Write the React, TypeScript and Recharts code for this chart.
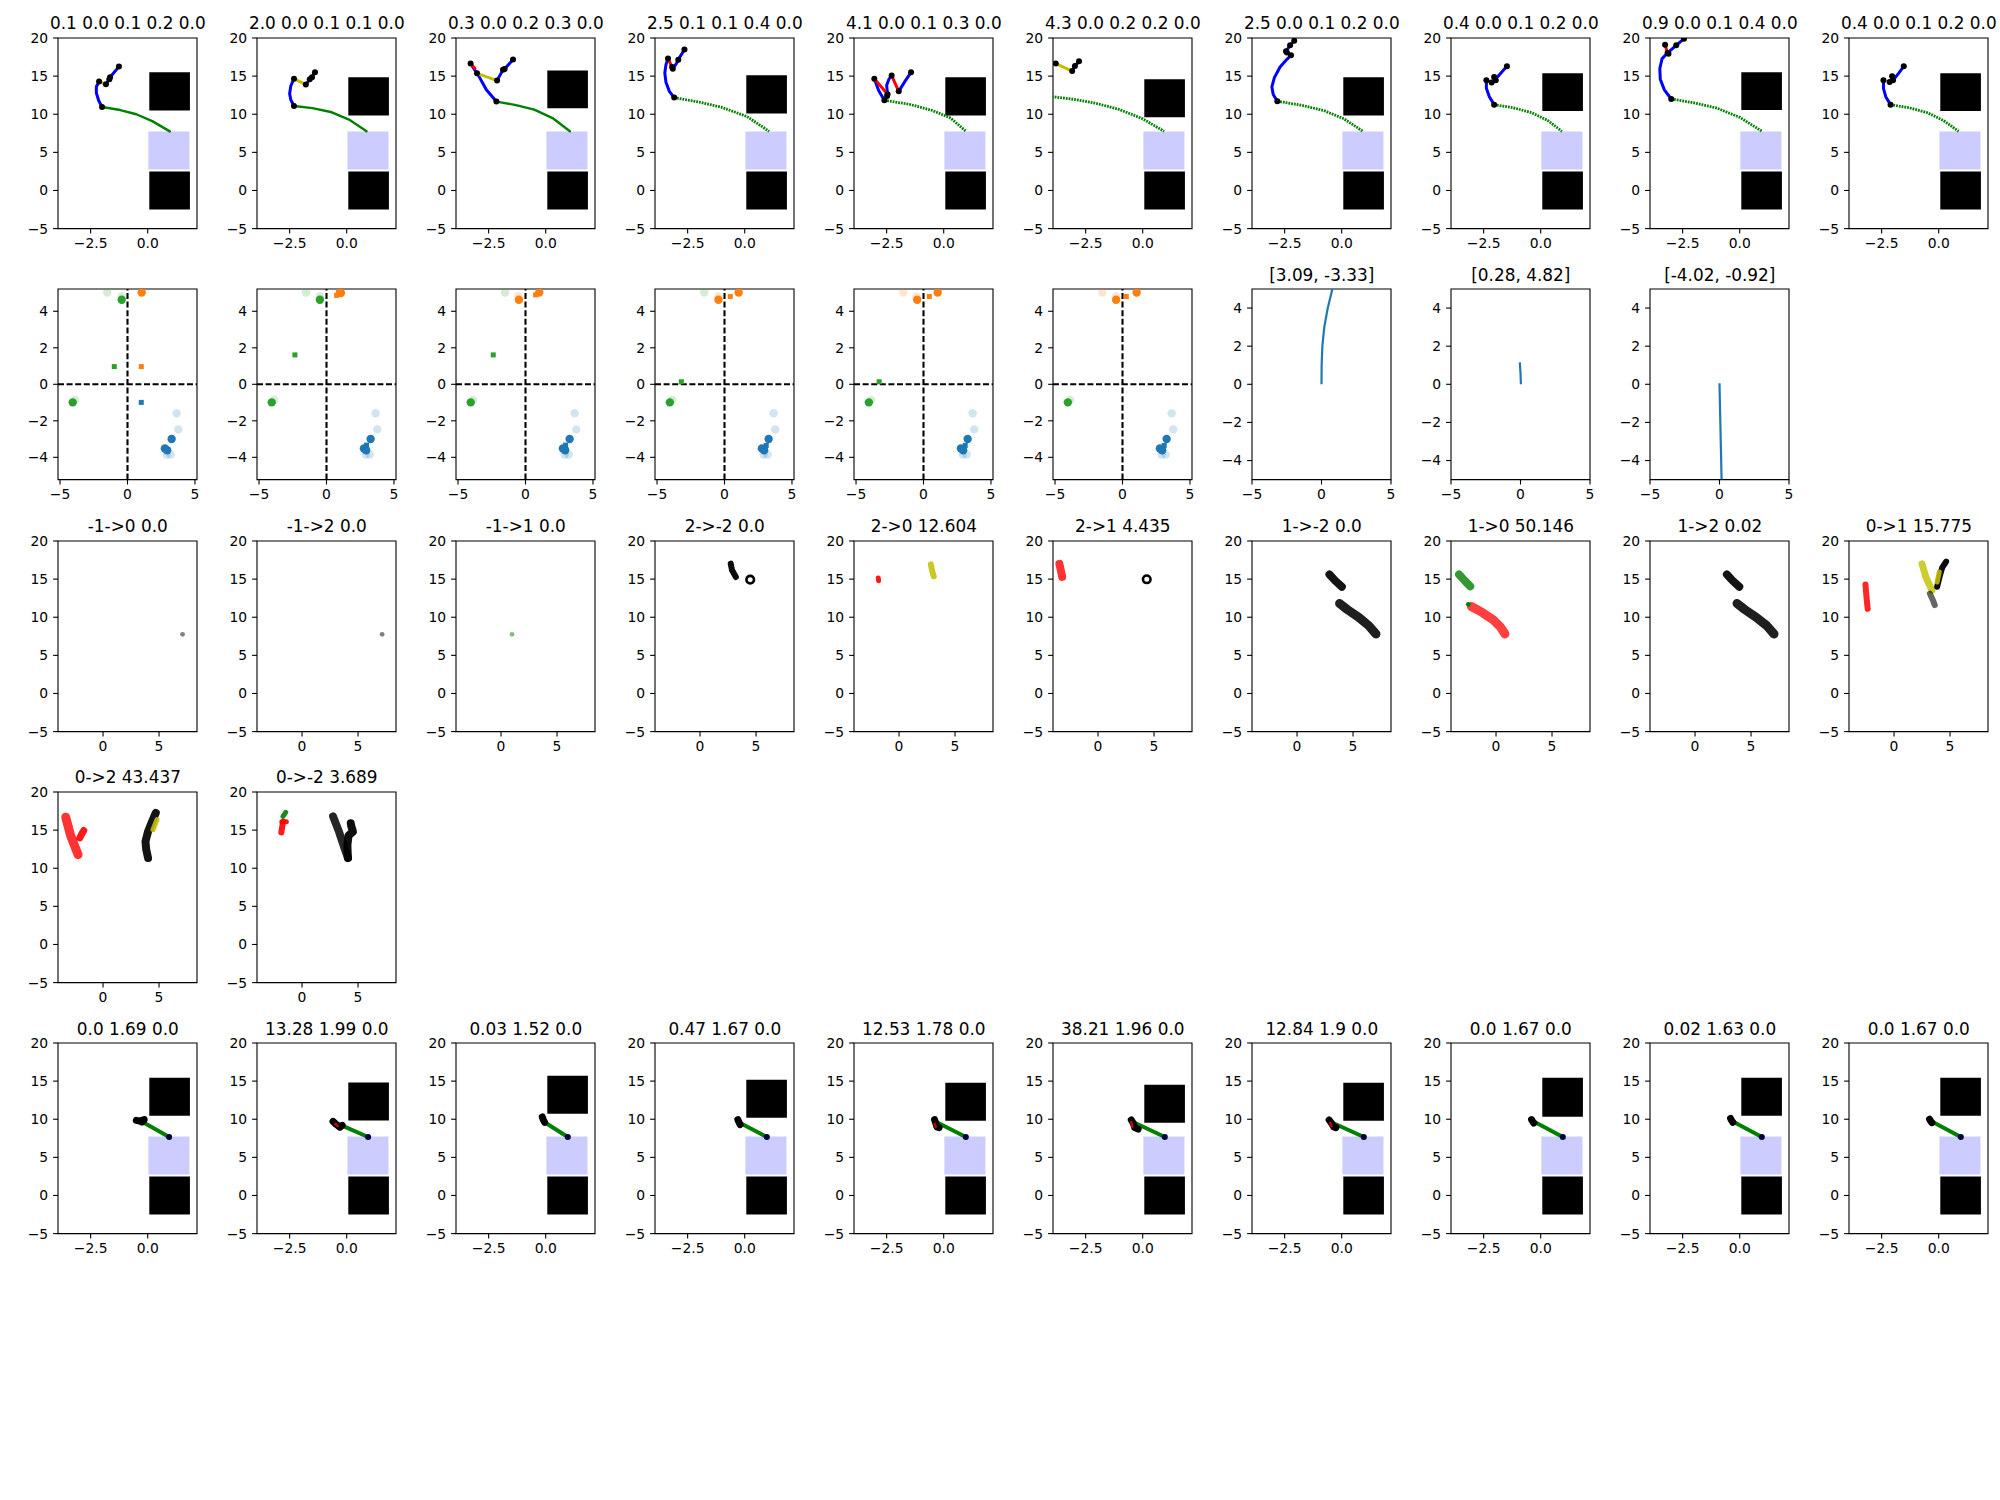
import React from 'react';
import { ScatterChart, Scatter, XAxis, YAxis, ReferenceArea, ReferenceLine } from 'recharts';

const FONT = 'DejaVu Sans';
const BLUE = '#0000ff';
const GREEN = '#008000';
const RED = '#ff0000';
const YEL = '#bfbf00';
const BLACK = '#000000';
const LAV = '#ccccff';
const NAVY = '#000040';
const T_BLUE = '#1f77b4';
const T_ORANGE = '#ff7f0e';
const T_GREEN = '#2ca02c';

// grid geometry (matplotlib tight layout)
const COL0 = 58.3;
const COL_STEP = 199;
const ROW0 = 37.7;
const ROW_STEP = 251.4;
const PW = 139;
const PH = 190.6;

// ---- row 1: arm trajectories ----
const r1Titles = [
  '0.1 0.0 0.1 0.2 0.0', '2.0 0.0 0.1 0.1 0.0', '0.3 0.0 0.2 0.3 0.0', '2.5 0.1 0.1 0.4 0.0', '4.1 0.0 0.1 0.3 0.0',
  '4.3 0.0 0.2 0.2 0.0', '2.5 0.0 0.1 0.2 0.0', '0.4 0.0 0.1 0.2 0.0', '0.9 0.0 0.1 0.4 0.0', '0.4 0.0 0.1 0.2 0.0',
];
const r1TopBox = [[10.5, 15.5], [9.85, 14.85], [10.8, 15.75], [10.1, 15.1], [9.85, 14.85], [9.6, 14.6], [9.85, 14.85], [10.43, 15.37], [10.55, 15.5], [10.43, 15.37]];
const r1GreenDotted = [false, false, false, true, true, true, true, true, true, true];
const r1Green = [
  [-2.0, 10.95, -1.2, 10.55, -0.5, 10.0, 0.2, 9.1, 0.97, 7.75],
  [-2.31, 11.08, -1.5, 10.8, -0.7, 10.3, 0.1, 9.3, 0.87, 7.76],
  [-2.16, 11.66, -1.3, 11.2, -0.5, 10.6, 0.3, 9.5, 1.06, 7.76],
  [-3.09, 12.18, -2.0, 11.6, -1.0, 10.9, 0.1, 9.7, 1.07, 7.76],
  [-2.6, 11.83, -1.5, 11.3, -0.5, 10.5, 0.3, 9.5, 0.98, 7.76],
  [-4.1, 12.35, -3.0, 11.95, -2.0, 11.4, -1.0, 10.6, 0.0, 9.4, 0.94, 7.76],
  [-2.82, 11.7, -1.8, 11.2, -0.8, 10.5, 0.1, 9.4, 0.93, 7.76],
  [-2.04, 11.26, -1.2, 10.85, -0.4, 10.2, 0.3, 9.2, 0.93, 7.76],
  [-3.0, 12.0, -2.0, 11.5, -1.0, 10.8, 0.0, 9.6, 0.98, 7.76],
  [-2.11, 11.26, -1.3, 10.85, -0.5, 10.2, 0.2, 9.2, 0.87, 7.76],
];
const r1Blue = [
  [[-2.0, 10.95, -2.15, 11.8, -2.25, 12.8, -2.25, 13.6, -2.13, 14.3], [-1.83, 13.93, -1.68, 14.6, -1.65, 14.85, -1.26, 16.25]],
  [[-2.31, 11.08, -2.45, 11.9, -2.5, 12.7, -2.45, 13.7, -2.31, 14.67], [-1.79, 13.89, -1.62, 14.58, -1.52, 14.85, -1.39, 15.5]],
  [[-3.2, 16.2, -2.95, 15.1, -2.6, 13.2, -2.16, 11.66], [-2.13, 14.41, -1.87, 15.85, -1.8, 15.95, -1.43, 17.17]],
  [[-3.09, 12.18, -3.3, 13.0, -3.45, 14.2, -3.5, 15.4, -3.45, 16.5, -3.36, 17.3], [-3.15, 15.98, -3.0, 16.6, -2.91, 17.16, -2.64, 18.48]],
  [[-3.04, 14.67, -2.85, 13.1, -2.6, 11.83], [-2.46, 12.62, -2.5, 13.8, -2.4, 14.6, -2.28, 15.07], [-1.97, 13.0, -1.7, 14.3, -1.43, 15.5]],
  [[-3.09, 15.67, -2.97, 16.33, -2.79, 16.94]],
  [[-2.82, 11.7, -3.0, 12.6, -3.06, 13.6, -2.95, 14.8, -2.7, 16.2, -2.4, 17.2, -2.22, 17.73], [-2.44, 18.26, -2.26, 19.04, -2.08, 19.65]],
  [[-2.04, 11.26, -2.25, 12.3, -2.38, 13.4, -2.38, 14.45], [-2.15, 14.15, -1.8, 15.2, -1.48, 16.29]],
  [[-3.0, 12.0, -3.3, 13.2, -3.48, 14.6, -3.5, 16.0, -3.4, 17.3, -3.16, 18.04], [-3.16, 18.04, -2.78, 19.04, -2.44, 19.91]],
  [[-2.11, 11.26, -2.32, 12.3, -2.42, 13.4, -2.42, 14.45], [-2.0, 14.45, -1.75, 15.4, -1.53, 16.29]],
];
const r1Red = [
  [], [], [[-3.29, 16.64, -3.1, 16.0]], [[-3.36, 17.3, -3.15, 15.98]],
  [[-3.04, 14.67, -2.46, 12.62], [-2.28, 15.07, -1.97, 13.0]], [], [], [], [[-3.27, 19.13, -3.16, 18.04]], [],
];
const r1Yellow = [
  [[-2.13, 14.3, -1.83, 13.93]], [[-2.31, 14.67, -1.79, 13.89]], [[-3.01, 15.37, -2.13, 14.41]], [], [],
  [[-3.81, 16.64, -3.09, 15.67]], [], [], [], [],
];
const r1Dots = [
  [-2.0, 10.95, -2.13, 14.3, -1.83, 13.93, -1.68, 14.6, -1.65, 14.85, -1.26, 16.25],
  [-2.31, 11.08, -2.31, 14.67, -1.79, 13.89, -1.62, 14.58, -1.52, 14.85, -1.39, 15.5],
  [-3.29, 16.64, -3.01, 15.37, -2.13, 14.41, -2.16, 11.66, -1.87, 15.85, -1.8, 15.95, -1.43, 17.17],
  [-3.36, 17.3, -3.15, 15.98, -3.18, 16.2, -2.91, 17.16, -2.64, 18.48, -3.09, 12.18],
  [-3.04, 14.67, -2.6, 11.83, -2.46, 12.62, -2.48, 12.4, -2.28, 15.07, -1.97, 13.0, -1.43, 15.5],
  [-3.81, 16.64, -3.09, 15.67, -2.97, 16.33, -2.79, 16.94],
  [-2.82, 11.7, -2.44, 18.26, -2.22, 17.73, -2.26, 19.04, -2.08, 19.65, -2.4, 18.1],
  [-2.04, 11.26, -2.38, 14.45, -2.15, 14.15, -2.04, 14.89, -1.97, 14.45, -1.48, 16.29],
  [-3.0, 12.0, -3.27, 19.13, -3.16, 18.04, -3.12, 17.95, -2.78, 19.04, -2.44, 19.91],
  [-2.11, 11.26, -2.42, 14.45, -2.15, 14.23, -2.04, 14.98, -2.0, 14.45, -1.53, 16.29],
];

// ---- row 2: goal scatter (cols 0-5) and curves (cols 6-8) ----
const r2BlueFaded = [3.64, -1.59, 3.76, -2.47, 2.9, -3.85, 3.2, -3.85];
const r2BlueSolid = [3.27, -3.0, 2.77, -3.52, 2.94, -3.61];
const r2FadedGreen = [
  [-1.5, 5.03, -0.43, 4.81, -3.88, -0.86], [-1.52, 5.03, -0.49, 4.81, -3.88, -0.86], [-1.52, 5.03, -3.88, -0.86],
  [-1.5, 5.03, -3.88, -0.86], [-3.88, -0.86], [-3.88, -0.86],
];
const r2SolidGreen = [[-0.43, 4.63, -4.06, -0.99], [-0.49, 4.63, -4.06, -0.99], [-4.06, -0.99], [-4.05, -0.99], [-4.05, -0.99], [-4.05, -0.99]];
const r2FadedOrange = [[], [], [-0.54, 4.83], [-0.45, 4.81], [-1.5, 5.03, -0.51, 4.81], [-1.5, 5.03, -0.47, 4.81]];
const r2SolidOrange = [[1.05, 5.03], [0.99, 5.03, 1.07, 5.0], [-0.49, 4.63, 1.02, 5.03], [-0.45, 4.63, 1.05, 5.03], [-0.47, 4.63, 1.05, 5.03], [-0.47, 4.63, 1.05, 5.03]];
const r2SqGreen = [[-0.98, 0.97], [-2.34, 1.61], [-2.39, 1.61], [-3.2, 0.14], [-3.29, 0.14], []];
const r2SqOrange = [[1.02, 0.97], [0.75, 4.87], [0.75, 4.9], [0.43, 4.81], [0.43, 4.81], [0.28, 4.81]];
const r2SqBlue = [[1.02, -0.99], [2.97, -3.33], [2.97, -3.33], [3.09, -3.35], [3.09, -3.35], [3.09, -3.35]];
const r2CurveTitles = ['[3.09, -3.33]', '[0.28, 4.82]', '[-4.02, -0.92]'];
const r2Curves = [
  [0, 0, 0.01, 1, 0.06, 2, 0.2, 3, 0.45, 4, 0.8, 5.05],
  [0.03, 0, 0.0, 0.6, -0.05, 1.15],
  [0, 0.05, 0.03, -1, 0.06, -2, 0.09, -3, 0.12, -4, 0.15, -5],
];

// ---- rows 3-4: transition blobs ----
const r34Titles = [
  '-1->0 0.0', '-1->2 0.0', '-1->1 0.0', '2->-2 0.0', '2->0 12.604', '2->1 4.435',
  '1->-2 0.0', '1->0 50.146', '1->2 0.02', '0->1 15.775', '0->2 43.437', '0->-2 3.689',
];
// [color, width, opacity, ...xy]
const r34Strokes: (string | number)[][][] = [
  [],
  [],
  [],
  [[BLACK, 6, 0.95, 2.74, 17.03, 2.85, 16.2, 3.2, 15.28]],
  [[RED, 5, 0.9, -1.85, 15.15, -1.83, 14.8], [YEL, 6, 0.85, 2.84, 16.94, 2.95, 16.1, 3.1, 15.37]],
  [[RED, 8, 0.8, -3.45, 17.0, -3.3, 16.0, -3.2, 15.3]],
  [[BLACK, 8, 0.92, 2.9, 15.6, 3.4, 14.8, 4.0, 14.0], [BLACK, 9, 0.88, 3.8, 11.8, 4.5, 11.0, 5.5, 10.0, 6.4, 8.9, 7.05, 7.8]],
  [[GREEN, 8, 0.8, -3.3, 15.6, -2.8, 14.8, -2.3, 14.05], [RED, 9, 0.75, -2.2, 11.4, -1.2, 10.6, -0.2, 9.6, 0.4, 8.7, 0.8, 7.8]],
  [[BLACK, 8, 0.92, 2.85, 15.6, 3.35, 14.8, 3.95, 14.0], [BLACK, 9, 0.88, 3.75, 11.8, 4.45, 11.0, 5.45, 10.0, 6.4, 8.9, 7.05, 7.8]],
  [
    [RED, 6, 0.85, -2.55, 14.3, -2.45, 12.5, -2.35, 11.1],
    [YEL, 7, 0.8, 2.5, 17.0, 2.84, 15.28, 3.38, 13.53],
    [BLACK, 6, 0.6, 3.2, 13.1, 3.45, 12.3, 3.64, 11.6],
    [BLACK, 6, 0.95, 3.85, 14.0, 4.1, 15.5, 4.3, 16.5, 4.65, 17.3],
    [YEL, 5, 0.9, 3.85, 14.62, 4.04, 15.93],
  ],
  [
    [RED, 9, 0.8, -3.33, 16.7, -2.9, 14.3, -2.23, 11.78],
    [RED, 7, 0.9, -2.08, 13.97, -1.9, 14.5, -1.72, 14.96],
    [BLACK, 8, 0.92, 4.02, 11.34, 3.85, 12.5, 3.79, 13.52, 4.02, 14.83, 4.4, 16.2, 4.71, 17.25],
    [YEL, 5, 0.9, 4.46, 15.05, 4.82, 16.37],
  ],
  [
    [RED, 6, 0.9, -1.85, 14.7, -1.75, 15.6, -1.7, 16.1],
    [RED, 5, 0.9, -1.8, 16.1, -1.4, 16.1],
    [GREEN, 5, 0.9, -1.7, 16.8, -1.46, 17.32],
    [BLACK, 8, 0.85, 2.77, 16.8, 3.3, 14.8, 3.8, 12.6, 4.1, 11.34],
    [BLACK, 8, 0.95, 4.1, 11.34, 4.05, 13.0, 4.15, 14.3, 4.55, 14.8, 4.4, 15.5, 4.35, 15.9],
  ],
];
const r34SmallDots = [[7.1, 7.76], [7.15, 7.76], [0.98, 7.76], [], [], [], [], [-2.47, 11.7], [], [], [], []];
const r34SmallDotColor = ['#808080', '#808080', '#7fbf7f', '', '', '', '', GREEN, '', '', '', ''];
const r34Rings = [[], [], [], [4.48, 14.93], [], [4.35, 14.98], [], [], [], [], [], []];

// ---- row 5: final poses ----
const r5Titles = [
  '0.0 1.69 0.0', '13.28 1.99 0.0', '0.03 1.52 0.0', '0.47 1.67 0.0', '12.53 1.78 0.0',
  '38.21 1.96 0.0', '12.84 1.9 0.0', '0.0 1.67 0.0', '0.02 1.63 0.0', '0.0 1.67 0.0',
];
const r5TopBox = [[10.46, 15.45], [9.85, 14.83], [10.73, 15.71], [10.2, 15.19], [9.81, 14.8], [9.55, 14.53], [9.81, 14.8], [10.34, 15.45], [10.47, 15.45], [10.47, 15.45]];
const r5Cluster = [
  [-0.5, 9.85, -0.35, 9.75, -0.15, 9.95, -0.25, 9.65],
  [-0.6, 9.72, -0.45, 9.3, -0.3, 8.95, -0.2, 9.2],
  [-0.15, 10.3, -0.1, 9.9, -0.05, 9.6],
  [-0.3, 9.95, -0.25, 9.6, -0.2, 9.3],
  [-0.4, 9.95, -0.35, 9.5, -0.3, 9.0, -0.2, 8.9],
  [-0.5, 9.9, -0.4, 9.4, -0.35, 8.9, -0.2, 8.7],
  [-0.55, 9.9, -0.45, 9.5, -0.35, 9.0, -0.25, 8.9],
  [-0.4, 9.95, -0.35, 9.7, -0.3, 9.5],
  [-0.4, 10.1, -0.35, 9.8, -0.3, 9.6],
  [-0.4, 10.0, -0.35, 9.75, -0.3, 9.55],
];
const r5Red = [[], [-0.5, 9.4, -0.4, 9.1], [], [], [-0.4, 9.4, -0.35, 9.0], [-0.5, 9.6, -0.45, 9.0], [-0.5, 9.5, -0.45, 9.1], [], [], []];
const r5Green = [
  [-0.2, 9.6, 0.94, 7.67], [-0.3, 9.3, 0.94, 7.67], [-0.05, 9.6, 0.97, 7.67], [-0.2, 9.5, 0.97, 7.67], [-0.3, 9.6, 0.97, 7.67],
  [-0.4, 9.6, 0.97, 7.67], [-0.45, 9.6, 0.97, 7.67], [-0.3, 9.7, 0.97, 7.67], [-0.3, 9.7, 0.97, 7.67], [-0.3, 9.7, 0.97, 7.67],
];

// ---- axes ----
const ARM_X: [number, number] = [-3.93, 2.16];
const ARM_Y: [number, number] = [-5, 20];
const ARM_XT = [-2.5, 0];
const ARM_YT = [-5, 0, 5, 10, 15, 20];
const GOAL_X: [number, number] = [-5.15, 5.15];
const GOAL_Y: [number, number] = [-5.22, 5.22];
const CURVE_D: [number, number] = [-5, 5];
const GOAL_XT = [-5, 0, 5];
const GOAL_YT = [-4, -2, 0, 2, 4];
const TR_X: [number, number] = [-4.02, 8.39];
const TR_XT = [0, 5];

type LineSpec = { pts: number[]; color: string; w: number; op?: number; dash?: string; cap?: 'round' | 'butt' };
type DotSpec = { pts: number[]; color: string; r: number; op?: number; kind?: 'circle' | 'square' | 'ring' };
type BoxSpec = { x1: number; x2: number; y1: number; y2: number; fill: string };

const toPts = (flat: number[]) => {
  const out: { x: number; y: number }[] = [];
  for (let i = 0; i < flat.length; i += 2) out.push({ x: flat[i], y: flat[i + 1] });
  return out;
};

const minus = (s: string) => s.replace('-', '\u2212');
const fmtInt = (v: number) => minus(String(v));
const fmtDec = (v: number) => minus(v.toFixed(1));

const TICK = { fill: '#000', fontSize: 13.9, fontFamily: FONT };
const noShape = () => <g />;

function dotShape(d: DotSpec) {
  return (p: any) => {
    if (d.kind === 'square')
      return <rect x={p.cx - d.r} y={p.cy - d.r} width={2 * d.r} height={2 * d.r} fill={d.color} fillOpacity={d.op ?? 1} />;
    if (d.kind === 'ring')
      return <circle cx={p.cx} cy={p.cy} r={d.r} fill="#fff" stroke={d.color} strokeWidth={2.6} />;
    return <circle cx={p.cx} cy={p.cy} r={d.r} fill={d.color} fillOpacity={d.op ?? 1} />;
  };
}

interface PanelProps {
  col: number;
  row: number;
  title?: string;
  xDomain: [number, number];
  yDomain: [number, number];
  xTicks: number[];
  yTicks: number[];
  xFmt: (v: number) => string;
  boxes?: BoxSpec[];
  lines?: LineSpec[];
  dots?: DotSpec[];
  cross?: boolean;
}

function Panel({ col, row, title, xDomain, yDomain, xTicks, yTicks, xFmt, boxes = [], lines = [], dots = [], cross = false }: PanelProps) {
  const left = COL0 + COL_STEP * col;
  const top = ROW0 + ROW_STEP * row;
  return (
    <>
      {title !== undefined && (
        <div
          style={{
            position: 'absolute', left: left + PW / 2 - 150, top: top - 22.6, width: 300, textAlign: 'center',
            fontFamily: FONT, fontSize: 16.9, lineHeight: '16.9px', whiteSpace: 'nowrap', color: '#000',
          }}
        >
          {title}
        </div>
      )}
      <div style={{ position: 'absolute', left: left - 50, top: top - 10 }}>
        <ScatterChart width={50 + PW + 10} height={10 + PH + 30} margin={{ top: 10, right: 10, bottom: 0, left: 0 }}>
          <XAxis
            type="number" dataKey="x" domain={xDomain} allowDataOverflow ticks={xTicks} interval={0}
            tickFormatter={xFmt} height={30} axisLine={false} tickSize={4.9} tickMargin={4.9}
            tickLine={{ stroke: '#000', strokeWidth: 1.1 }} tick={TICK}
          />
          <YAxis
            type="number" dataKey="y" domain={yDomain} allowDataOverflow ticks={yTicks} interval={0}
            tickFormatter={fmtInt} width={50} axisLine={false} tickSize={4.9} tickMargin={4.9}
            tickLine={{ stroke: '#000', strokeWidth: 1.1 }} tick={TICK}
          />
          {boxes.map((b, i) => (
            <ReferenceArea key={'b' + i} x1={b.x1} x2={b.x2} y1={b.y1} y2={b.y2} fill={b.fill} fillOpacity={1} stroke="none" ifOverflow="visible" />
          ))}
          {cross && <ReferenceLine x={0} stroke="#000" strokeWidth={2.1} strokeDasharray="6 2.6" />}
          {cross && <ReferenceLine y={0} stroke="#000" strokeWidth={2.1} strokeDasharray="6 2.6" />}
          {lines.map((l, i) => (
            <Scatter
              key={'l' + i}
              data={toPts(l.pts)}
              line={{
                stroke: l.color, strokeWidth: l.w, strokeOpacity: l.op ?? 1, strokeDasharray: l.dash,
                strokeLinecap: l.cap ?? 'round', strokeLinejoin: 'round',
              }}
              shape={noShape}
              isAnimationActive={false}
            />
          ))}
          {dots.map((d, i) => (
            <Scatter key={'d' + i} data={toPts(d.pts)} shape={dotShape(d)} isAnimationActive={false} />
          ))}
          <ReferenceArea x1={xDomain[0]} x2={xDomain[1]} y1={yDomain[0]} y2={yDomain[1]} fill="none" fillOpacity={0} stroke="#000" strokeWidth={1.1} ifOverflow="visible" />
        </ScatterChart>
      </div>
    </>
  );
}

function armBoxes(topBox: number[]): BoxSpec[] {
  return [
    { x1: 0.07, x2: 1.85, y1: topBox[0], y2: topBox[1], fill: BLACK },
    { x1: 0.03, x2: 1.83, y1: 2.75, y2: 7.75, fill: LAV },
    { x1: 0.07, x2: 1.85, y1: -2.5, y2: 2.5, fill: BLACK },
  ];
}

export default function App() {
  const panels: React.ReactNode[] = [];

  r1Titles.forEach((t, c) => {
    const lines: LineSpec[] = [];
    lines.push(r1GreenDotted[c]
      ? { pts: r1Green[c], color: GREEN, w: 2.8, dash: '1.8 1', cap: 'butt' }
      : { pts: r1Green[c], color: GREEN, w: 2.4 });
    r1Blue[c].forEach((p) => lines.push({ pts: p, color: BLUE, w: 3 }));
    r1Red[c].forEach((p) => lines.push({ pts: p, color: RED, w: 3 }));
    r1Yellow[c].forEach((p) => lines.push({ pts: p, color: YEL, w: 3 }));
    panels.push(
      <Panel key={'r1' + c} col={c} row={0} title={t} xDomain={ARM_X} yDomain={ARM_Y} xTicks={ARM_XT} yTicks={ARM_YT} xFmt={fmtDec}
        boxes={armBoxes(r1TopBox[c])} lines={lines} dots={[{ pts: r1Dots[c], color: BLACK, r: 3 }]} />,
    );
  });

  for (let c = 0; c < 6; c++) {
    const dots: DotSpec[] = [
      { pts: r2BlueFaded, color: T_BLUE, r: 4.2, op: 0.2 },
      { pts: r2FadedGreen[c], color: T_GREEN, r: 4.2, op: 0.2 },
      { pts: r2FadedOrange[c], color: T_ORANGE, r: 4.2, op: 0.2 },
      { pts: r2BlueSolid, color: T_BLUE, r: 4.2 },
      { pts: r2SolidGreen[c], color: T_GREEN, r: 4.2 },
      { pts: r2SolidOrange[c], color: T_ORANGE, r: 4.2 },
      { pts: r2SqGreen[c], color: T_GREEN, r: 2.5, kind: 'square' },
      { pts: r2SqOrange[c], color: T_ORANGE, r: 2.5, kind: 'square' },
      { pts: r2SqBlue[c], color: T_BLUE, r: 2.5, kind: 'square' },
    ].filter((d) => d.pts.length > 0) as DotSpec[];
    panels.push(
      <Panel key={'r2' + c} col={c} row={1} xDomain={GOAL_X} yDomain={GOAL_Y} xTicks={GOAL_XT} yTicks={GOAL_YT} xFmt={fmtInt} cross dots={dots} />,
    );
  }
  r2CurveTitles.forEach((t, i) => {
    panels.push(
      <Panel key={'r2c' + i} col={6 + i} row={1} title={t} xDomain={CURVE_D} yDomain={CURVE_D} xTicks={GOAL_XT} yTicks={GOAL_YT} xFmt={fmtInt}
        lines={[{ pts: r2Curves[i], color: T_BLUE, w: 2.2, cap: 'butt' }]} />,
    );
  });

  r34Titles.forEach((t, i) => {
    const row = i < 10 ? 2 : 3;
    const col = i < 10 ? i : i - 10;
    const lines: LineSpec[] = r34Strokes[i].map((s) => ({
      color: s[0] as string, w: s[1] as number, op: s[2] as number, pts: s.slice(3) as number[],
    }));
    const dots: DotSpec[] = [];
    if (r34SmallDots[i].length) dots.push({ pts: r34SmallDots[i], color: r34SmallDotColor[i], r: 2.4 });
    if (r34Rings[i].length) dots.push({ pts: r34Rings[i], color: BLACK, r: 3.8, kind: 'ring' });
    panels.push(
      <Panel key={'r34' + i} col={col} row={row} title={t} xDomain={TR_X} yDomain={ARM_Y} xTicks={TR_XT} yTicks={ARM_YT} xFmt={fmtInt}
        lines={lines} dots={dots} />,
    );
  });

  r5Titles.forEach((t, c) => {
    const lines: LineSpec[] = [
      { pts: r5Green[c], color: GREEN, w: 4 },
      { pts: r5Cluster[c], color: BLACK, w: 7 },
    ];
    if (r5Red[c].length) lines.push({ pts: r5Red[c], color: RED, w: 2.5, op: 0.8 });
    const end = r5Green[c].slice(2, 4);
    panels.push(
      <Panel key={'r5' + c} col={c} row={4} title={t} xDomain={ARM_X} yDomain={ARM_Y} xTicks={ARM_XT} yTicks={ARM_YT} xFmt={fmtDec}
        boxes={armBoxes(r5TopBox[c])} lines={lines} dots={[{ pts: end, color: NAVY, r: 3 }]} />,
    );
  });

  return (
    <div style={{ position: 'absolute', left: 0, top: 0, width: 2000, height: 1500, background: '#fff', overflow: 'hidden' }}>
      {panels}
    </div>
  );
}
